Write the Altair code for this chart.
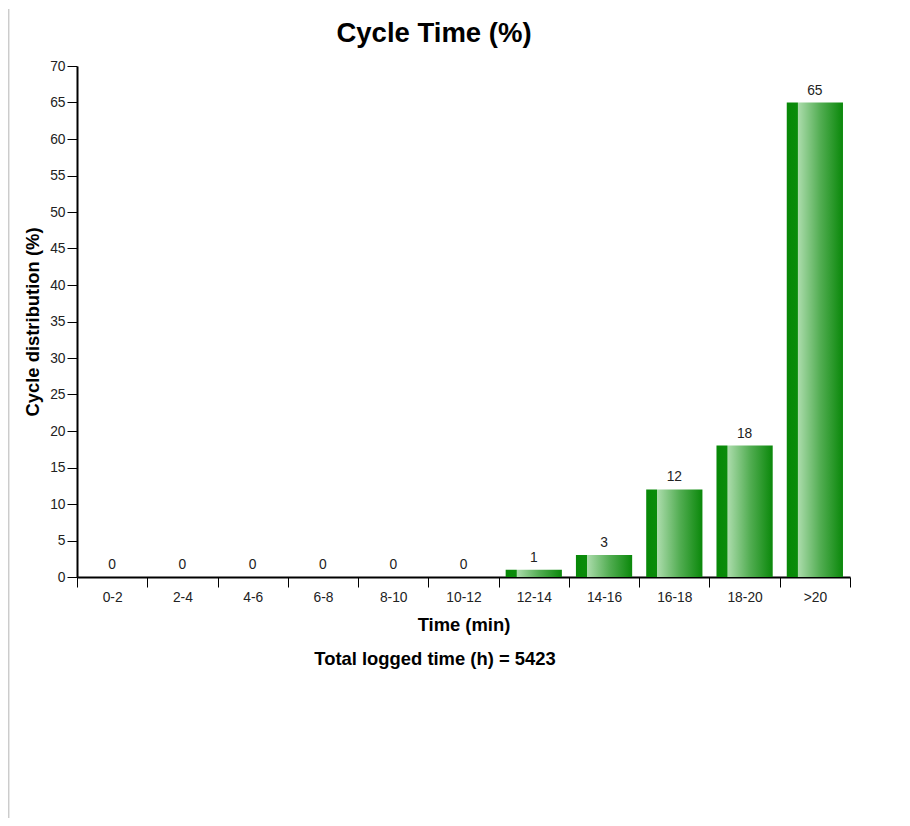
import altair as alt
import pandas as pd

categories = ["0-2", "2-4", "4-6", "6-8", "8-10", "10-12", "12-14", "14-16", "16-18", "18-20", ">20"]
values = [0, 0, 0, 0, 0, 0, 1, 3, 12, 18, 65]
y_ticks = list(range(0, 75, 5))
title_text = "Cycle Time (%)"
x_title = "Time (min)"
y_title = "Cycle distribution (%)"
footer_text = "Total logged time (h) = 5423"

df = pd.DataFrame({"cat": categories, "val": values})

FONT = "Liberation Sans"
W, H = 773, 511
BOLD_SIZE = 18.4
LABEL_SIZE = 13.8

gradient = alt.Gradient(
    gradient="linear",
    x1=0, x2=1, y1=0, y2=0,
    stops=[
        alt.GradientStop(offset=0.0, color="#078807"),
        alt.GradientStop(offset=0.19, color="#0b8c0b"),
        alt.GradientStop(offset=0.2, color="#acdcac"),
        alt.GradientStop(offset=0.6, color="#52ad52"),
        alt.GradientStop(offset=1.0, color="#0a880a"),
    ],
)

x_axis = alt.Axis(
    title=x_title,
    labelAngle=0,
    tickBand="extent",
    domainColor="black",
    domainWidth=2,
    tickColor="black",
    tickWidth=1,
    tickSize=10,
    labelFont=FONT,
    labelFontSize=LABEL_SIZE,
    labelColor="#222222",
    labelPadding=3,
    titleFont=FONT,
    titleFontSize=BOLD_SIZE,
    titleFontWeight="bold",
    titleColor="black",
    titleBaseline="alphabetic",
    titleY=53,
    grid=False,
)
y_axis = alt.Axis(
    title=y_title,
    values=y_ticks,
    labelOverlap=False,
    domainColor="black",
    domainWidth=2,
    tickColor="black",
    tickWidth=1,
    tickSize=10,
    labelFont=FONT,
    labelFontSize=LABEL_SIZE,
    labelColor="#222222",
    labelPadding=2,
    titleFont=FONT,
    titleFontSize=BOLD_SIZE,
    titleFontWeight="bold",
    titleColor="black",
    titleAngle=-90,
    titleAlign="center",
    titleBaseline="middle",
    titleX=-45,
    titleY=H / 2,
    grid=False,
)

x_enc = alt.X("cat:N", sort=categories,
              scale=alt.Scale(paddingInner=0, paddingOuter=0), axis=x_axis)
y_enc = alt.Y("val:Q", scale=alt.Scale(domain=[0, 70], nice=False), axis=y_axis)

base = alt.Chart(df).encode(x=x_enc, y=y_enc)

bars = base.mark_bar(color=gradient, width=alt.RelativeBandSize(0.8))

labels = base.mark_text(
    baseline="alphabetic", dy=-8, fontSize=LABEL_SIZE, font=FONT, color="#222222"
).encode(text=alt.Text("val:Q"))

title = alt.Chart(pd.DataFrame({"t": [title_text]})).mark_text(
    font=FONT, fontSize=27.5, fontWeight="bold", color="black",
    align="center", baseline="alphabetic",
).encode(text="t:N", x=alt.value(357), y=alt.value(-24))

footer = alt.Chart(pd.DataFrame({"t": [footer_text]})).mark_text(
    font=FONT, fontSize=BOLD_SIZE, fontWeight="bold", color="black",
    align="center", baseline="alphabetic",
).encode(text="t:N", x=alt.value(358), y=alt.value(599))

border = alt.Chart(pd.DataFrame({"a": [0]})).mark_rule(
    color="#cccccc", strokeWidth=1.5
).encode(x=alt.value(-68.3), y=alt.value(-57), y2=alt.value(752))

chart = (
    alt.layer(border, bars, labels, title, footer)
    .properties(
        width=W,
        height=H,
        autosize=alt.AutoSizeParams(type="none"),
        padding={"left": 69, "top": 58, "right": 40, "bottom": 241},
    )
    .configure_view(stroke=None)
)

chart.save("out.html", embed_options={"renderer": "svg", "actions": False})
